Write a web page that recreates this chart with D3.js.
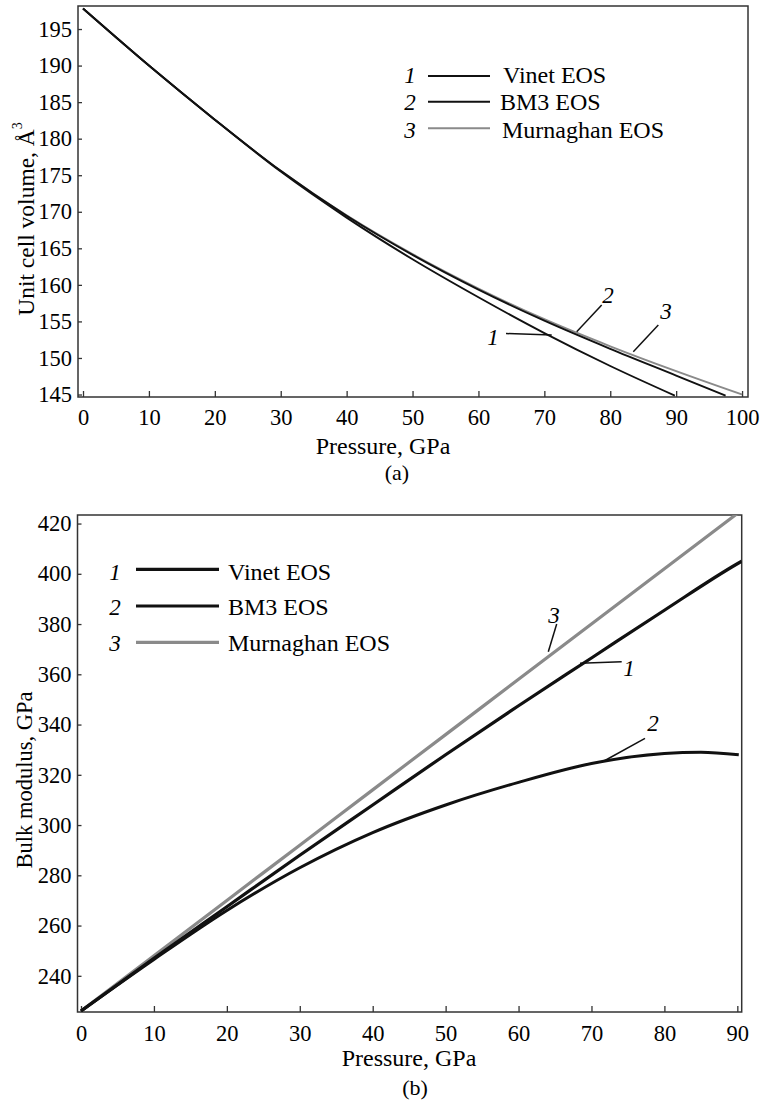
<!DOCTYPE html>
<html><head><meta charset="utf-8">
<script src="https://cdn.jsdelivr.net/npm/d3@7"></script>
<style>body{margin:0;background:#fff}svg{display:block}</style>
</head><body>
<script>
// ---------- DATA ----------
// Panel (a): unit cell volume (Å^3) vs pressure (GPa)
const vinetP_a = [0,10,20,30,40,50,60,70,80,89.8];
const vinetV   = [197.8,190.0,182.6,175.5,169.2,163.5,158.3,153.4,148.9,144.85];
const bm3P_a   = [0,10,20,30,40,50,60,70,80,90,97.5];
const bm3V     = [197.8,190.0,182.6,175.6,169.45,164.1,159.35,155.1,151.25,147.6,144.85];
const murnP_a  = [0,10,20,30,40,50,60,70,80,90,100];
const murnV    = [197.8,190.0,182.6,175.6,169.5,164.2,159.5,155.3,151.6,148.2,145.0];
const xTicksA  = [0,10,20,30,40,50,60,70,80,90,100];
const yTicksA  = [145,150,155,160,165,170,175,180,185,190,195];

// Panel (b): bulk modulus (GPa) vs pressure (GPa)
const vinetP_b = [0,10,20,30,40,50,60,70,80,90,90.6];
const vinetK   = [226,247,267.5,288,308,328,347.5,366.5,385.5,404,405];
const bm3P_b   = [0,10,20,30,40,50,60,70,80,85,90.2];
const bm3K     = [226,246.5,266,283,297,308,317,324.5,328.5,329,328];
const murnP_b  = [0,10,20,30,40,50,60,70,80,90];
const murnK    = [226,248,270,292,314,336,358,380,402,424];
const xTicksB  = [0,10,20,30,40,50,60,70,80,90];
const yTicksB  = [240,260,280,300,320,340,360,380,400,420];

const legendNames = ["Vinet EOS","BM3 EOS","Murnaghan EOS"];
const legendNums  = ["1","2","3"];

// ---------- DRAW ----------
const FONT = "'Liberation Serif','Times New Roman',Times,serif";
const W = 760, H = 1103;
const svg = d3.select("body").append("svg").attr("width", W).attr("height", H)
  .style("font-family", FONT);

const BLACK = "#111", GRAY = "#8a8a8a", AX = "#333";

function panel(cfg) {
  const x = d3.scaleLinear().domain(cfg.xd).range([cfg.l, cfg.r]);
  const y = d3.scaleLinear().domain(cfg.yd).range([cfg.b, cfg.t]);
  const g = svg.append("g");
  const cid = "clip" + cfg.id;
  svg.append("defs").append("clipPath").attr("id", cid)
    .append("rect").attr("x", cfg.l).attr("y", cfg.t).attr("width", cfg.r - cfg.l).attr("height", cfg.b - cfg.t);

  const xa = g.append("g").attr("transform", `translate(0,${cfg.b})`)
    .call(d3.axisBottom(x).tickValues(cfg.xt).tickSizeInner(-6).tickSizeOuter(0).tickPadding(cfg.xpad).tickFormat(d3.format("d")));
  const ya = g.append("g").attr("transform", `translate(${cfg.l},0)`)
    .call(d3.axisLeft(y).tickValues(cfg.yt).tickSizeInner(-4).tickSizeOuter(0).tickPadding(6).tickFormat(d3.format("d")));
  [xa, ya].forEach(a => {
    a.attr("font-family", FONT).attr("font-size", 22.5);
    a.select(".domain").remove();
    a.selectAll("line").attr("stroke", AX).attr("stroke-width", 1.3);
    a.selectAll("text").attr("fill", "#000");
  });
  g.append("rect").attr("x", cfg.l).attr("y", cfg.t).attr("width", cfg.r - cfg.l).attr("height", cfg.b - cfg.t)
    .attr("fill", "none").attr("stroke", AX).attr("stroke-width", 1.5);

  const line = d3.line().x(d => x(d[0])).y(d => y(d[1])).curve(d3.curveMonotoneX);
  const lines = g.append("g").attr("clip-path", `url(#${cid})`);
  cfg.series.forEach(s => {
    lines.append("path").attr("d", line(d3.zip(s.p, s.v)))
      .attr("fill", "none").attr("stroke", s.c).attr("stroke-width", s.w)
      .attr("stroke-linejoin", "round");
  });
  return {x, y, g};
}

panel({
  id: "a", l: 78, r: 748, t: 6, b: 397,
  xd: [-0.76, 100.9], yd: [144.66, 198.15], xt: xTicksA, yt: yTicksA, xpad: 12,
  series: [
    {p: murnP_a, v: murnV, c: GRAY, w: 1.9},
    {p: bm3P_a, v: bm3V, c: BLACK, w: 1.9},
    {p: vinetP_a, v: vinetV, c: BLACK, w: 1.9}
  ]
});
panel({
  id: "b", l: 77.5, r: 741.7, t: 515, b: 1012,
  xd: [-0.48, 90.6], yd: [225.6, 423.4], xt: xTicksB, yt: yTicksB, xpad: 13,
  series: [
    {p: murnP_b, v: murnK, c: GRAY, w: 3.2},
    {p: bm3P_b, v: bm3K, c: BLACK, w: 3},
    {p: vinetP_b, v: vinetK, c: BLACK, w: 3.2}
  ]
});

svg.append("text").attr("x", 383).attr("y", 454).attr("text-anchor", "middle")
  .attr("font-size", 24).text("Pressure, GPa");
svg.append("text").attr("x", 397).attr("y", 480).attr("text-anchor", "middle")
  .attr("font-size", 22).text("(a)");
svg.append("text").attr("x", 409).attr("y", 1066).attr("text-anchor", "middle")
  .attr("font-size", 24).text("Pressure, GPa");
svg.append("text").attr("x", 415).attr("y", 1095).attr("text-anchor", "middle")
  .attr("font-size", 22).text("(b)");

const ta = svg.append("text").attr("transform", "translate(34,219) rotate(-90)")
  .attr("text-anchor", "middle").attr("font-size", 23.5);
ta.append("tspan").text("Unit cell volume, Å");
ta.append("tspan").attr("font-size", 14).attr("dy", -12).text("3");
svg.append("text").attr("transform", "translate(32,780) rotate(-90)")
  .attr("text-anchor", "middle").attr("font-size", 22.5).text("Bulk modulus, GPa");

function legend(cfg) {
  legendNames.forEach((n, i) => {
    const ly = cfg.lineY[i];
    svg.append("text").attr("x", cfg.numX).attr("y", cfg.baseY[i]).attr("font-size", 23)
      .attr("font-style", "italic").attr("text-anchor", "middle").text(legendNums[i]);
    svg.append("line").attr("x1", cfg.x1).attr("x2", cfg.x2).attr("y1", ly).attr("y2", ly)
      .attr("stroke", i === 2 ? GRAY : BLACK).attr("stroke-width", cfg.w);
    svg.append("text").attr("x", cfg.textX[i]).attr("y", cfg.baseY[i]).attr("font-size", 24).text(n);
  });
}
legend({numX: 410, x1: 428, x2: 490, lineY: [76, 101.7, 128.3], baseY: [83, 110, 138],
        textX: [503, 500, 502], w: 1.9});
legend({numX: 115, x1: 136, x2: 219, lineY: [569.3, 606, 642.3], baseY: [580, 615, 651],
        textX: [228, 228, 228], w: 3.2});

function label(txt, tx, ty, x1, y1, x2, y2) {
  svg.append("text").attr("x", tx).attr("y", ty).attr("font-size", 23).attr("font-style", "italic")
    .attr("text-anchor", "middle").text(txt);
  svg.append("line").attr("x1", x1).attr("y1", y1).attr("x2", x2).attr("y2", y2)
    .attr("stroke", BLACK).attr("stroke-width", 1.5);
}
label("1", 493, 345, 506, 333.5, 551.7, 335);
label("2", 608, 303, 601.7, 305, 576.7, 331.7);
label("3", 666, 319, 658.3, 325, 633.3, 351.7);
label("3", 554, 623, 556.7, 624, 548.3, 651.7);
label("1", 629, 676, 621.7, 661.7, 580, 663.3);
label("2", 653, 731, 645, 738.3, 604, 761);
</script>
</body></html>
